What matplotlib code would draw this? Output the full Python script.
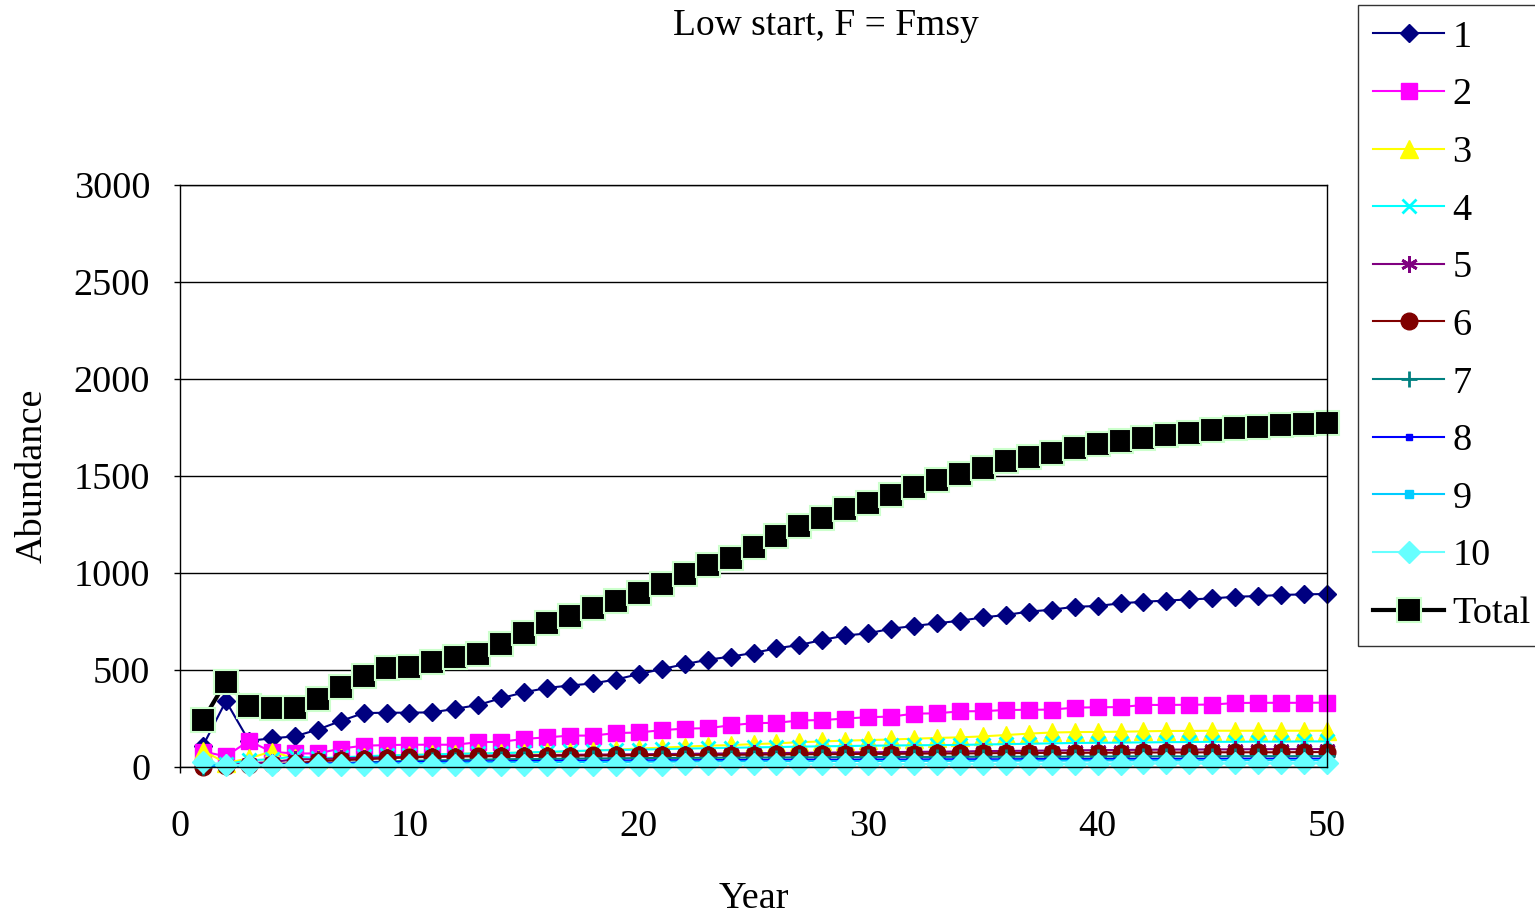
import numpy as np
import matplotlib
matplotlib.use('Agg')
import matplotlib.pyplot as plt

plt.rcParams['font.family'] = ['Liberation Serif', 'DejaVu Serif']

years = list(range(1, 51))

age1 = [110, 340, 135, 148, 158, 193, 237, 278, 280, 280,
        282, 300, 320, 355, 385, 408, 420, 431, 451, 479,
        505, 530, 553, 569, 588, 612, 629, 655, 678, 689,
        713, 727, 741, 754, 771, 784, 801, 811, 826, 830,
        844, 852, 858, 864, 869, 878, 881, 887, 890, 892]
age2 = [80, 55, 135, 78, 70, 70, 95, 110, 113, 115,
        115, 115, 128, 130, 145, 153, 162, 162, 175, 178,
        190, 198, 200, 215, 226, 228, 240, 242, 250, 257,
        260, 275, 277, 287, 288, 294, 295, 296, 306, 308,
        309, 320, 320, 321, 322, 330, 331, 331, 331, 332]
age3 = [85, 20, 45, 80, 45, 42, 45, 52, 58, 62,
        65, 68, 70, 72, 74, 76, 80, 85, 90, 95,
        100, 105, 110, 113, 118, 122, 128, 132, 136, 139,
        142, 146, 150, 153, 158, 165, 172, 178, 180, 181,
        182, 184, 186, 186, 187, 187, 187, 187, 187, 187]
age4 = [10, 15, 35, 40, 55, 45, 50, 55, 60, 62,
        65, 68, 70, 72, 75, 78, 82, 85, 88, 90,
        92, 95, 97, 99, 101, 103, 105, 107, 108, 110,
        111, 112, 113, 114, 116, 118, 120, 122, 124, 125,
        126, 127, 128, 129, 130, 130, 131, 131, 132, 132]
age5 = [5, 10, 20, 25, 40, 40, 45, 48, 50, 52,
        55, 57, 58, 60, 61, 62, 63, 64, 65, 66,
        67, 68, 69, 70, 71, 72, 73, 74, 75, 76,
        77, 78, 79, 80, 82, 83, 84, 85, 86, 87,
        88, 89, 90, 90, 91, 91, 92, 92, 92, 93]
age6 = [2, 5, 10, 15, 20, 30, 35, 40, 45, 50,
        52, 54, 55, 56, 57, 58, 59, 60, 60, 61,
        62, 62, 63, 63, 64, 65, 66, 66, 67, 68,
        68, 69, 70, 70, 71, 72, 72, 73, 73, 74,
        74, 75, 75, 75, 76, 76, 76, 76, 77, 77]
age7 = [0, 2, 5, 8, 10, 15, 20, 25, 28, 32,
        34, 36, 38, 40, 41, 42, 43, 44, 45, 46,
        47, 47, 48, 48, 49, 49, 50, 50, 51, 51,
        52, 52, 52, 53, 53, 53, 54, 54, 54, 54,
        55, 55, 55, 55, 55, 56, 56, 56, 56, 56]
age8 = [5, 8, 10, 12, 15, 18, 20, 22, 24, 26,
        27, 28, 29, 30, 31, 32, 33, 33, 34, 34,
        35, 35, 36, 36, 37, 37, 38, 38, 38, 39,
        39, 39, 40, 40, 40, 40, 41, 41, 41, 41,
        42, 42, 42, 42, 42, 43, 43, 43, 43, 43]
age9 = [8, 8, 9, 10, 12, 14, 16, 18, 19, 20,
        21, 22, 23, 24, 25, 25, 26, 26, 27, 27,
        28, 28, 29, 29, 29, 30, 30, 30, 31, 31,
        31, 32, 32, 32, 32, 33, 33, 33, 33, 34,
        34, 34, 34, 34, 35, 35, 35, 35, 35, 35]
age10 = [27, 12, 10, 10, 10, 10, 10, 10, 10, 11,
         11, 11, 11, 12, 12, 12, 12, 13, 13, 13,
         13, 14, 14, 14, 14, 15, 15, 15, 15, 16,
         16, 16, 16, 17, 17, 17, 17, 18, 18, 18,
         18, 19, 19, 19, 19, 19, 20, 20, 20, 20]
total = [242, 440, 315, 302, 302, 350, 414, 470, 512, 518,
         540, 565, 585, 635, 690, 740, 778, 818, 855, 895,
         945, 995, 1041, 1078, 1135, 1190, 1240, 1285, 1328, 1363,
         1403, 1442, 1478, 1512, 1543, 1575, 1600, 1620, 1645, 1665,
         1682, 1695, 1712, 1722, 1735, 1745, 1755, 1763, 1770, 1775]

labels = ['1', '2', '3', '4', '5', '6', '7', '8', '9', '10', 'Total']
series = [age1, age2, age3, age4, age5, age6, age7, age8, age9, age10, total]

# line colour, marker, marker size, line width
styles = [
    ('#000080', 'D', 9, 1.5),
    ('#FF00FF', 's', 12, 1.5),
    ('#FFFF00', '^', 13, 1.5),
    ('#00FFFF', 'x', 10, 1.5),
    ('#800080', (6, 2, 0), 12, 1.5),
    ('#800000', 'o', 12, 1.5),
    ('#008080', '+', 12, 1.5),
    ('#0000FF', 's', 5, 1.5),
    ('#00CCFF', 's', 6, 1.5),
    ('#66FFFF', 'D', 11, 1.5),
    ('#000000', 's', 17, 3.0),
]

fs = 27.5

fig = plt.figure(figsize=(15.35, 9.14), dpi=100)
ax = fig.add_axes([0.1173, 0.1608, 0.7472, 0.6368])

handles = []
for vals, lab, (col, mk, ms, lw) in zip(series, labels, styles):
    kw = dict(color=col, marker=mk, markersize=ms, linewidth=lw, clip_on=False,
              markerfacecolor=col, markeredgecolor=col, label=lab)
    if lab == 'Total':
        kw['markeredgecolor'] = '#CCFFCC'
        kw['markeredgewidth'] = 1.5
    if mk in ('x', '+', (6, 2, 0)):
        kw['markeredgewidth'] = 2
    h, = ax.plot(years, vals, **kw)
    handles.append(h)

ax.set_xlim(0, 50)
ax.set_ylim(0, 3000)
ax.set_xticks(range(0, 51, 10))
ax.set_yticks(range(0, 3001, 500))
ax.grid(axis='y', color='black', linewidth=1)
ax.set_axisbelow(True)
for s in ax.spines.values():
    s.set_color('black')
    s.set_linewidth(1)
ax.tick_params(direction='out', length=4.5, width=1, labelsize=fs, color='black')
ax.tick_params(axis='x', pad=26)
ax.tick_params(axis='y', pad=17)

ax.set_xlabel('Year', fontsize=fs)
ax.xaxis.set_label_coords(0.5, -0.197)
ax.set_ylabel('Abundance', fontsize=fs)
ax.yaxis.set_label_coords(-0.114, 0.5)
fig.text(0.538, 0.972, 'Low start, F = Fmsy', fontsize=27, ha='center', va='center')

leg = fig.legend(handles=handles, loc='upper left', bbox_to_anchor=(0.8847, 0.995),
                 fontsize=fs, frameon=True, fancybox=False, edgecolor='black',
                 handlelength=1.85, handletextpad=0.22, labelspacing=0.6,
                 borderpad=0.4, borderaxespad=0)
leg.get_frame().set_linewidth(1)

fig.savefig('out.png', dpi=100)
